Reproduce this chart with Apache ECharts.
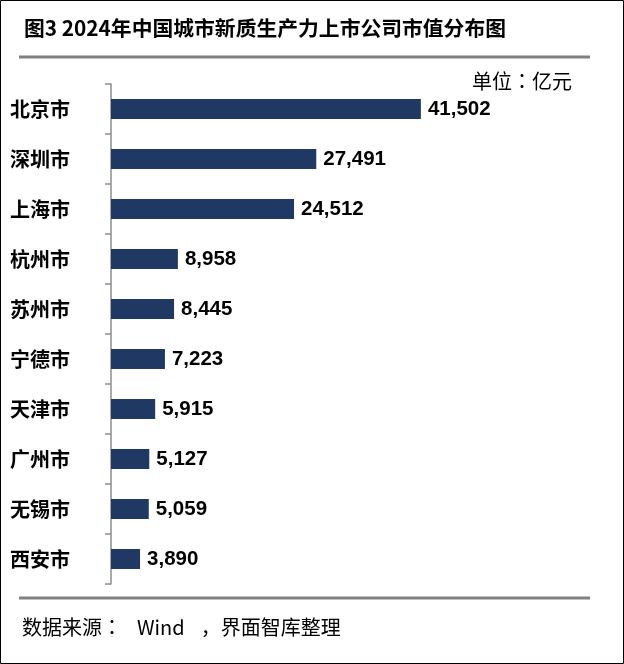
<!DOCTYPE html>
<html>
<head>
<meta charset="utf-8">
<script src="https://cdn.jsdelivr.net/npm/echarts@6/dist/echarts.min.js"></script>
<style>
html,body{margin:0;padding:0;background:#fff;}
#c{width:624px;height:664px;}
</style>
</head>
<body>
<div id="c"></div>
<script>
const categories = ['北京市','深圳市','上海市','杭州市','苏州市','宁德市','天津市','广州市','无锡市','西安市'];
const values = [41502, 27491, 24512, 8958, 8445, 7223, 5915, 5127, 5059, 3890];
const titleText = '图3 2024年中国城市新质生产力上市公司市值分布图';
const unitParts = ['单位', '：', '亿元'];
const sourceParts = ['数据来源', '：', 'Wind', '，界面智库整理'];

const CJK = '"Noto Sans CJK SC", sans-serif';
const CJKP = '"Noto Sans CJK TC", "Noto Sans CJK SC", sans-serif';
const chart = echarts.init(document.getElementById('c'), null, {renderer:'canvas'});
chart.setOption({
  animation: false,
  backgroundColor: '#fff',
  grid: {left: 111, top: 84, width: 448, height: 500, outerBoundsMode: 'none', containLabel: false},
  xAxis: {type: 'value', min: 0, max: 60000, show: false, splitLine: {show: false}},
  yAxis: {
    type: 'category', data: categories, inverse: true,
    axisLine: {show: true, lineStyle: {color: '#8c8c8c', width: 1.5}},
    axisTick: {show: true, length: 6, lineStyle: {color: '#8c8c8c', width: 1.5}},
    axisLabel: {align: 'left', margin: 101, color: '#000', fontFamily: CJK, fontSize: 20, fontWeight: 'bold'},
    splitLine: {show: false}
  },
  series: [{
    type: 'bar', data: values, barWidth: 20,
    itemStyle: {color: '#203864'},
    label: {show: true, position: 'right', distance: 7, color: '#000',
      fontFamily: '"Liberation Sans", Arial, sans-serif', fontWeight: 'bold', fontSize: 20.5,
      formatter: p => p.value.toLocaleString('en-US')}
  }],
  graphic: [
    {type: 'rect', shape: {x: 0.5, y: 0.5, width: 623, height: 663}, style: {fill: 'none', stroke: '#000', lineWidth: 1}, silent: true},
    {type: 'text', left: 24, top: 18, style: {text: titleText, fontFamily: CJK, fontSize: 20.8, fontWeight: 'bold', fill: '#000'}},
    {type: 'line', shape: {x1: 19, y1: 57, x2: 590, y2: 57}, style: {stroke: '#808080', lineWidth: 3}},
    {type: 'text', right: 52, top: 71, style: {
      text: '{a|' + unitParts[0] + '}{p|' + unitParts[1] + '}{a|' + unitParts[2] + '}',
      fontFamily: CJK, fontSize: 20, fill: '#000',
      rich: {a: {fontFamily: CJK, fontSize: 20, fill: '#000'}, p: {fontFamily: CJKP, fontSize: 20, fill: '#000'}}
    }},
    {type: 'line', shape: {x1: 19, y1: 598, x2: 590, y2: 598}, style: {stroke: '#808080', lineWidth: 3}},
    {type: 'text', left: 22, top: 617, style: {
      text: '{a|' + sourceParts[0] + '}{p|' + sourceParts[1] + '}{b|' + sourceParts[2] + '}{a|' + sourceParts[3] + '}',
      fontFamily: CJK, fontSize: 20, fill: '#000',
      rich: {
        a: {fontFamily: CJK, fontSize: 20, fill: '#000'},
        p: {fontFamily: CJKP, fontSize: 20, fill: '#000'},
        b: {fontFamily: CJK, fontSize: 20, fill: '#000', padding: [0, 16, 0, 15]}
      }
    }}
  ]
});
</script>
</body>
</html>
